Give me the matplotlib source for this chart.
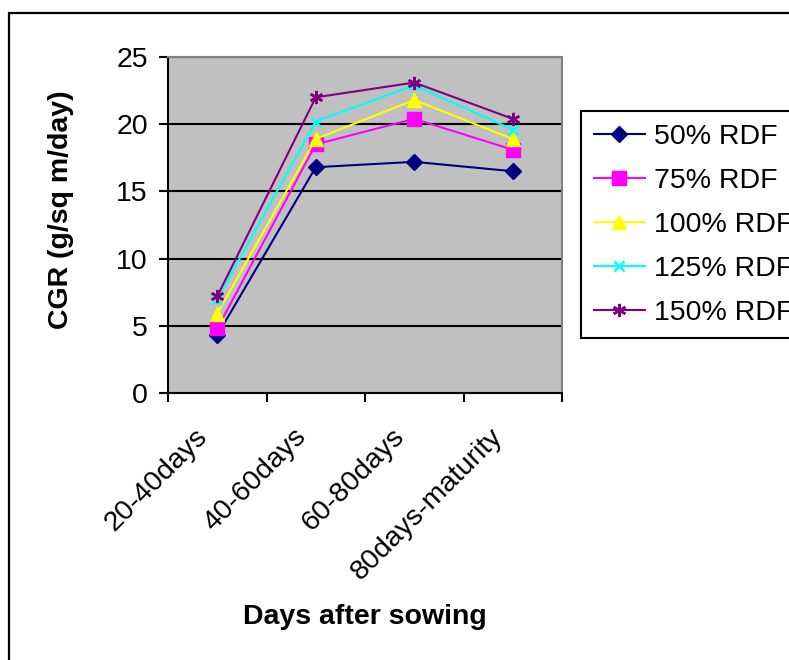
import matplotlib
matplotlib.use("Agg")
import matplotlib.pyplot as plt
import matplotlib.patches as patches
from matplotlib.transforms import ScaledTranslation

stages = ["20-40days", "40-60days", "60-80days", "80days-maturity"]
series_names = ["50% RDF", "75% RDF", "100% RDF", "125% RDF", "150% RDF"]
rdf_50 = [4.3, 16.8, 17.2, 16.5]
rdf_75 = [4.8, 18.5, 20.4, 18.1]
rdf_100 = [5.9, 18.9, 21.8, 18.9]
rdf_125 = [7.0, 20.2, 22.9, 19.6]
rdf_150 = [7.2, 22.0, 23.1, 20.4]

plt.rcParams['font.family'] = ['Liberation Sans', 'DejaVu Sans']
FS = 20.5

# colour, marker, marker size
styles = [
    ("#000080", "D", 8),
    ("#FF00FF", "s", 9.5),
    ("#FFFF00", "^", 10.5),
    ("#00FFFF", "x", 7.5),
    ("#800080", (6, 2, 0), 9.5),
]

fig = plt.figure(figsize=(7.89, 6.6), dpi=100)
ax = fig.add_axes([168 / 789, 1 - 393 / 660, 394 / 789, 336 / 660])
ax.set_facecolor("#C0C0C0")

# outer chart border, runs off the right and bottom edge
fig.patches.append(patches.Rectangle((9 / 789, -0.1), 1.2, 1 - 13 / 660 + 0.1,
                                     transform=fig.transFigure, fill=False,
                                     edgecolor="black", lw=1.6, zorder=0))

x = list(range(len(stages)))
for name, vals, (col, mk, ms) in zip(series_names,
                                     [rdf_50, rdf_75, rdf_100, rdf_125, rdf_150],
                                     styles):
    ax.plot(x, vals, color=col, marker=mk, markersize=ms, lw=1.5,
            markeredgewidth=1.8 if mk in ("x", (6, 2, 0)) else 1,
            markeredgecolor=col, markerfacecolor=col, label=name, zorder=3)

ax.set_xlim(-0.5, len(stages) - 0.5)
ax.set_ylim(0, 25)
ax.set_yticks([0, 5, 10, 15, 20, 25])
ax.yaxis.grid(True, color="black", lw=1.5)
ax.set_axisbelow(True)

# category boundaries get tick marks, labels sit at the centres
ax.set_xticks([i - 0.5 for i in range(len(stages) + 1)])
ax.set_xticklabels([])
ax.set_xticks(x, minor=True)
ax.set_xticklabels(stages, minor=True, rotation=45, ha="right", va="top",
                   rotation_mode="anchor", fontsize=FS)
ax.tick_params(axis="x", which="minor", length=0, pad=22)
for lab in ax.get_xticklabels(minor=True):
    lab.set_transform(lab.get_transform() + ScaledTranslation(-0.23, 0, fig.dpi_scale_trans))
ax.tick_params(axis="both", which="major", direction="out", length=6.5,
               width=1.5, labelsize=FS)
ax.tick_params(axis="y", pad=8)

for s in ["left", "bottom"]:
    ax.spines[s].set_color("black")
    ax.spines[s].set_linewidth(1.5)
for s in ["top", "right"]:
    ax.spines[s].set_color("#808080")
    ax.spines[s].set_linewidth(1.5)

ax.set_ylabel("CGR (g/sq m/day)", fontsize=FS, fontweight="bold", va="center")
ax.yaxis.set_label_coords(-0.272, 0.545)
ax.set_xlabel("Days after sowing", fontsize=FS, fontweight="bold", va="center")
ax.xaxis.set_label_coords(0.5, -0.667)

# legend runs off the right edge, as in the original
leg = ax.legend(loc="upper left", bbox_to_anchor=(581 / 789, 1 - 111 / 660),
                bbox_transform=fig.transFigure, fontsize=FS, frameon=True,
                fancybox=False, edgecolor="black", framealpha=1,
                handlelength=1.8, handletextpad=0.3, borderpad=0.45,
                labelspacing=0.63, borderaxespad=0)
leg.get_frame().set_linewidth(1.5)

fig.savefig("out.png", dpi=100)
